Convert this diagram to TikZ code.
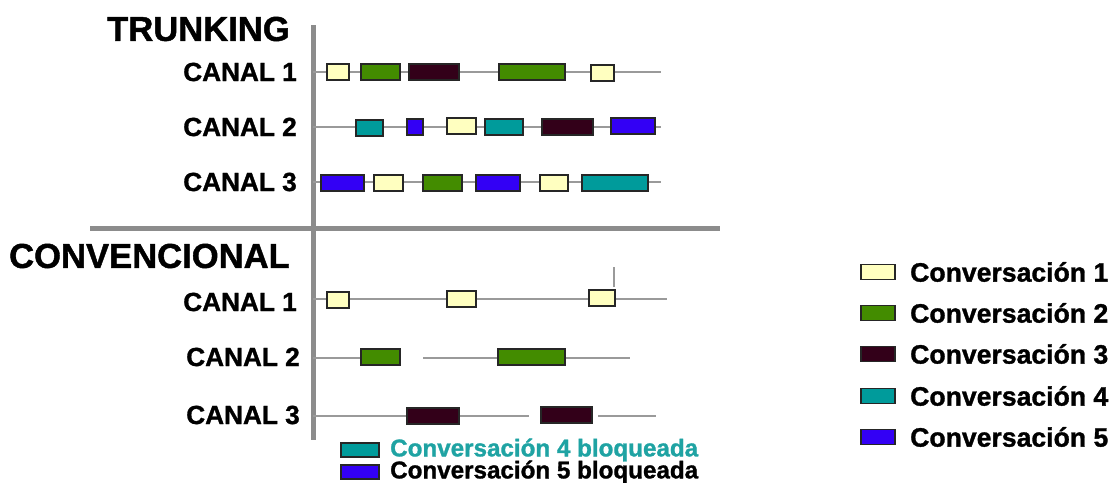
\documentclass[tikz,border=0pt]{standalone}
\usepackage{fontspec}
\setmainfont{Liberation Sans}[BoldFeatures={FakeBold=1.2}]
\definecolor{cA}{HTML}{FFFFC0}
\definecolor{cB}{HTML}{438C00}
\definecolor{cC}{HTML}{330019}
\definecolor{cD}{HTML}{009B9B}
\definecolor{cE}{HTML}{3300F5}
\definecolor{axisgray}{HTML}{8C8C8C}
\definecolor{linegray}{HTML}{9A9A9A}
\definecolor{tealtext}{HTML}{1FA3A3}
\newcommand{\bx}[5]{\node[convbox,fill=#2,minimum width={(#4)-(#3)}] (#1) at ({((#3)+(#4))/2},#5) {};}
\begin{document}
\begin{tikzpicture}[x=1pt,y=-1pt,
  convbox/.style={draw=black!85,line width=1.3pt,inner sep=0pt,minimum height=16pt},
  legbox/.style={draw=black!85,line width=1.3pt,inner sep=0pt,minimum height=15pt,minimum width=34pt},
  axisline/.style={draw=axisgray,line width=5pt},
  chline/.style={draw=linegray,line width=1.6pt},
  lbl/.style={inner sep=0pt,font=\fontsize{26.2}{26}\selectfont\bfseries},
  title/.style={inner sep=0pt,font=\fontsize{34.6}{35}\selectfont\bfseries},
  legtxt/.style={inner sep=0pt,anchor=west,font=\fontsize{26.6}{27}\selectfont\bfseries},
  legtxtb/.style={inner sep=0pt,anchor=west,font=\fontsize{24.2}{24}\selectfont\bfseries}]
\useasboundingbox (0,0) rectangle (1116,482);
% axes
\coordinate (vtop) at (313,25); \coordinate (vbot) at (313,440);
\coordinate (hl) at (90,228); \coordinate (hr) at (720,228);
\draw[axisline] (vtop) -- (vbot);
\draw[axisline] (hl) -- (hr);
% channel lines trunking
\coordinate (t1s) at (313,72); \coordinate (t1e) at (661,72);
\coordinate (t2s) at (313,127); \coordinate (t2e) at (661,127);
\coordinate (t3s) at (313,182); \coordinate (t3e) at (661,182);
\draw[chline] (t1s) -- (t1e);
\draw[chline] (t2s) -- (t2e);
\draw[chline] (t3s) -- (t3e);
% channel lines conventional
\coordinate (c1s) at (313,299); \coordinate (c1e) at (667,299);
\coordinate (c2s) at (313,358); \coordinate (c2m) at (400,358);
\coordinate (c2n) at (423,358); \coordinate (c2e) at (630,358);
\coordinate (c3s) at (313,416); \coordinate (c3m) at (529,416);
\coordinate (c3n) at (598,416); \coordinate (c3e) at (656,416);
\coordinate (tkt) at (614,267); \coordinate (tkb) at (614,287);
\draw[chline] (c1s) -- (c1e);
\draw[chline] (tkt) -- (tkb);
\draw[chline] (c2s) -- (c2m);
\draw[chline] (c2n) -- (c2e);
\draw[chline] (c3s) -- (c3m);
\draw[chline] (c3n) -- (c3e);
% trunking boxes
\bx{a1}{cA}{327}{349}{72}
\bx{a2}{cB}{361}{400}{72}
\bx{a3}{cC}{409}{459}{72}
\bx{a4}{cB}{499}{565}{72}
\bx{a5}{cA}{591}{614}{73}
\bx{b1}{cD}{356}{383}{128}
\bx{b2}{cE}{407}{423}{127}
\bx{b3}{cA}{447}{476}{126}
\bx{b4}{cD}{485}{523}{127}
\bx{b5}{cC}{542}{593}{127}
\bx{b6}{cE}{611}{655}{126}
\bx{d1}{cE}{321}{364}{183}
\bx{d2}{cA}{374}{403}{183}
\bx{d3}{cB}{423}{462}{183}
\bx{d4}{cE}{476}{520}{183}
\bx{d5}{cA}{540}{568}{183}
\bx{d6}{cD}{582}{648}{183}
% conventional boxes
\bx{e1}{cA}{327}{349}{300}
\bx{e2}{cA}{447}{476}{299}
\bx{e3}{cA}{589}{615}{298}
\bx{f1}{cB}{361}{400}{357}
\bx{f2}{cB}{498}{565}{357}
\bx{g1}{cC}{407}{459}{416}
\bx{g2}{cC}{541}{592}{415}
% labels
\node[title,anchor=east] (trk) at (290,29) {TRUNKING};
\node[title,anchor=east] (cnv) at (290,256) {CONVENCIONAL};
\node[lbl,anchor=east] (tl1) at (297,72) {CANAL 1};
\node[lbl,anchor=east] (tl2) at (297,127) {CANAL 2};
\node[lbl,anchor=east] (tl3) at (297,182) {CANAL 3};
\node[lbl,anchor=east] (cl1) at (297,302) {CANAL 1};
\node[lbl,anchor=east] (cl2) at (300,357) {CANAL 2};
\node[lbl,anchor=east] (cl3) at (300,415) {CANAL 3};
% right legend
\node[legbox,fill=cA] (k1) at (878,272) {};
\node[legbox,fill=cB] (k2) at (878,313) {};
\node[legbox,fill=cC] (k3) at (878,354) {};
\node[legbox,fill=cD] (k4) at (878,396) {};
\node[legbox,fill=cE] (k5) at (878,437) {};
\node[legtxt] (kt1) at (910,272) {Conversación 1};
\node[legtxt] (kt2) at (910,313) {Conversación 2};
\node[legtxt] (kt3) at (910,354) {Conversación 3};
\node[legtxt] (kt4) at (910,396) {Conversación 4};
\node[legtxt] (kt5) at (910,437) {Conversación 5};
% bottom legend
\node[legbox,fill=cD,minimum width=38pt,minimum height=14pt] (bk1) at (360,450) {};
\node[legbox,fill=cE,minimum width=38pt,minimum height=14pt] (bk2) at (360,472) {};
\node[legtxtb,text=tealtext] (bt1) at (390,450) {Conversación 4 bloqueada};
\node[legtxtb] (bt2) at (390,472) {Conversación 5 bloqueada};
\end{tikzpicture}
\end{document}
